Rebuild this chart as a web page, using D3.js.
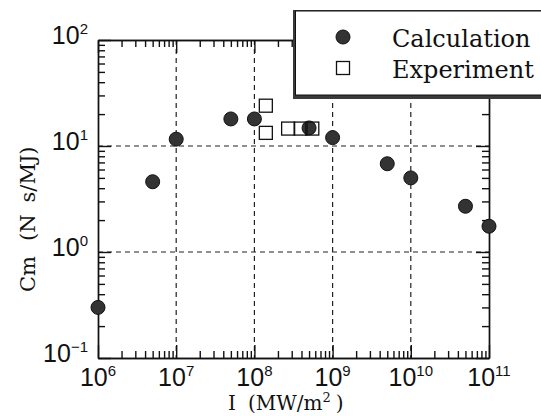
<!DOCTYPE html>
<html>
<head>
<meta charset="utf-8">
<script src="https://cdn.jsdelivr.net/npm/d3@7"></script>
<style>
  body { margin: 0; background: #fff; }
  .axis path, .axis line { stroke: #111; stroke-width: 1.4; }
  .ticklab { font-family: "Liberation Sans Narrow", "Liberation Sans", Arial, sans-serif; fill: #111; }
  .title { font-family: "DejaVu Serif", serif; fill: #111; }
</style>
</head>
<body>
<div id="plot"></div>
<script>
// data
var calcI  = [1e6, 5e6, 1e7, 5e7, 1e8, 5e8, 1e9, 5e9, 1e10, 5e10, 1e11];
var calcCm = [0.30, 4.6, 11.6, 18, 18, 14.8, 12, 6.8, 5.0, 2.7, 1.75];
var expI   = [1.4e8, 1.4e8, 2.7e8, 3.9e8, 5.5e8];
var expCm  = [24, 13.3, 14.6, 14.6, 14.6];
var xExp = [6, 7, 8, 9, 10, 11];
var yExp = [-1, 0, 1, 2];
var legendLabels = ["Calculation", "Experiment"];

var margin = {top: 40, right: 52, bottom: 58, left: 98},
    width = 541 - margin.left - margin.right,
    height = 416 - margin.top - margin.bottom;

const svg = d3.select("#plot")
  .append("svg")
    .attr("width", 541)
    .attr("height", 416)
  .append("g")
    .attr("transform", `translate(${margin.left},${margin.top})`);

var xscale = d3.scaleLog().domain([1e6, 1e11]).range([0, width]);
var yscale = d3.scaleLog().domain([0.1, 100]).range([height, 0]);

var xMajor = xExp.map(e => Math.pow(10, e));
var yMajor = yExp.map(e => Math.pow(10, e));
// minor ticks = everything that is not a whole decade
var isDecade = v => Math.abs(Math.log10(v) - Math.round(Math.log10(v))) < 1e-6;
var xMinor = xscale.ticks().filter(v => !isDecade(v));
var yMinor = yscale.ticks().filter(v => !isDecade(v));

// grid (dashed) at inner decades
svg.append("g").selectAll("line")
  .data(xMajor.slice(1, -1))
  .join("line")
    .attr("x1", d => xscale(d)).attr("x2", d => xscale(d))
    .attr("y1", 0).attr("y2", height)
    .attr("stroke", "#222").attr("stroke-width", 1.2)
    .attr("stroke-dasharray", "5,4");
svg.append("g").selectAll("line")
  .data(yMajor.slice(1, -1))
  .join("line")
    .attr("y1", d => yscale(d)).attr("y2", d => yscale(d))
    .attr("x1", 0).attr("x2", width)
    .attr("stroke", "#222").attr("stroke-width", 1.2)
    .attr("stroke-dasharray", "5,4");

// axes on all four sides, ticks pointing in
function addAxis(axisFn, scale, transform) {
  var isX = scale === xscale;
  svg.append("g").attr("class", "axis").attr("transform", transform)
    .call(axisFn(scale).tickValues(isX ? xMinor : yMinor)
      .tickSize(-7).tickSizeOuter(0).tickFormat(""));
  svg.append("g").attr("class", "axis").attr("transform", transform)
    .call(axisFn(scale).tickValues(isX ? xMajor : yMajor)
      .tickSize(-13).tickSizeOuter(0).tickFormat(""));
}
addAxis(d3.axisBottom, xscale, `translate(0,${height})`);
addAxis(d3.axisTop, xscale, "translate(0,0)");
addAxis(d3.axisLeft, yscale, "translate(0,0)");
addAxis(d3.axisRight, yscale, `translate(${width},0)`);

// tick labels 10^n
var xl = svg.append("g").selectAll("text")
  .data(xExp)
  .join("text")
    .attr("class", "ticklab")
    .attr("x", d => xscale(Math.pow(10, d)))
    .attr("y", height + 28)
    .attr("text-anchor", "middle")
    .style("font-size", "25px");
xl.append("tspan").text("10");
xl.append("tspan").attr("dy", -10).style("font-size", "15px").text(d => d);

var yl = svg.append("g").selectAll("text")
  .data(yExp)
  .join("text")
    .attr("class", "ticklab")
    .attr("x", -10)
    .attr("y", d => yscale(Math.pow(10, d)) + 4)
    .attr("text-anchor", "end")
    .style("font-size", "25px");
yl.append("tspan").text("10");
yl.append("tspan").attr("dy", -10).style("font-size", "15px").text(d => d < 0 ? "\u2212" + (-d) : d);

// axis titles
var xt = svg.append("text")
  .attr("class", "title")
  .attr("x", 130)
  .attr("y", height + 52)
  .style("font-size", "20px");
xt.append("tspan").text("I");
xt.append("tspan").attr("dx", 12).text("(MW/m");
xt.append("tspan").attr("dy", -8).style("font-size", "13px").text("2");
xt.append("tspan").attr("dy", 8).attr("dx", 5).text(")");

var yt = svg.append("text")
  .attr("class", "title")
  .attr("transform", `translate(${-63},${252}) rotate(-90)`)
  .style("font-size", "21px");
yt.append("tspan").text("Cm");
yt.append("tspan").attr("dx", 15).text("(N");
yt.append("tspan").attr("dx", 12).text("s/MJ)");

// calculation points
svg.append("g").selectAll("circle")
  .data(calcI.map((d, i) => [d, calcCm[i]]))
  .join("circle")
    .attr("cx", d => xscale(d[0]))
    .attr("cy", d => yscale(d[1]))
    .attr("r", 7)
    .attr("fill", "#333")
    .attr("stroke", "#111")
    .attr("stroke-width", 1);

// experiment points
svg.append("g").selectAll("rect")
  .data(expI.map((d, i) => [d, expCm[i]]))
  .join("rect")
    .attr("x", d => xscale(d[0]) - 6.5)
    .attr("y", d => yscale(d[1]) - 6.5)
    .attr("width", 13).attr("height", 13)
    .attr("fill", "none")
    .attr("stroke", "#111")
    .attr("stroke-width", 1.3);

// legend box with shadow
var lg = svg.append("g").attr("transform", `translate(${293 - margin.left},${10 - margin.top})`);
lg.append("rect").attr("x", 0).attr("y", 0).attr("width", 270).attr("height", 89).attr("fill", "#3a3a3a");
lg.append("rect").attr("x", 2.5).attr("y", 1).attr("width", 270).attr("height", 84)
  .attr("fill", "#fff").attr("stroke", "#111").attr("stroke-width", 1);
lg.append("circle").attr("cx", 50).attr("cy", 27).attr("r", 7).attr("fill", "#333").attr("stroke", "#111");
lg.append("rect").attr("x", 43.5).attr("y", 51.5).attr("width", 13).attr("height", 13)
  .attr("fill", "#fff").attr("stroke", "#111").attr("stroke-width", 1.3);
lg.selectAll(".lt")
  .data(legendLabels)
  .join("text")
    .attr("class", "title lt")
    .attr("x", 99)
    .attr("y", (d, i) => 37 + i * 31)
    .style("font-size", "24px")
    .text(d => d);
</script>
</body>
</html>
